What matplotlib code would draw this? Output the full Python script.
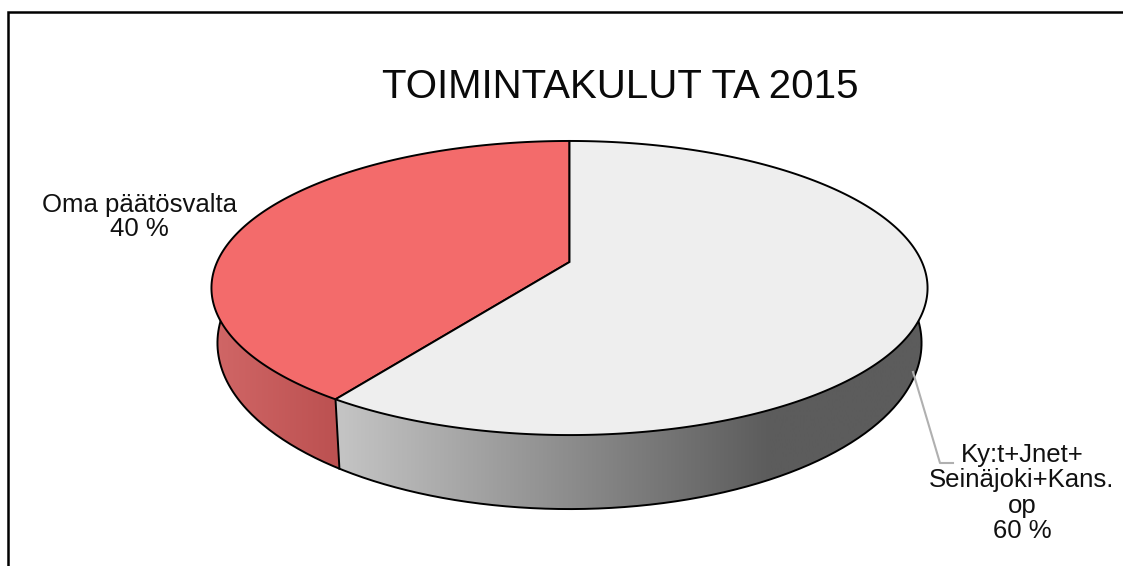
import numpy as np
import matplotlib
matplotlib.use("Agg")
import matplotlib.pyplot as plt
from matplotlib.colors import to_rgb
from matplotlib.patches import Polygon

plt.rcParams['font.family'] = ['Liberation Sans', 'DejaVu Sans']

title = "TOIMINTAKULUT TA 2015"
shares = [40.4, 59.6]
labels = ["Oma päätösvalta\n40 %", "Ky:t+Jnet+\nSeinäjoki+Kans.\nop\n60 %"]
top_colors = ["#f36b6b", "#eeeeee"]
wall_left = ["#d06666", "#c4c4c4"]
wall_right = ["#bb5050", "#5c5c5c"]

# pixel coordinates, y down
cx = 569.5
apex_y = 262.0
P = -0.1769
A = 96.1
C = 352.4


def top_rim(theta):
    # theta measured from the top of the pie, counter clockwise on screen
    u = -np.sin(theta)
    v = -np.cos(theta)
    w = 1 + P * v
    return cx + C * u / w, (apex_y + A * v) / w


def bottom_rim(theta):
    # lower ellipse, same angle mapped through the top rim position
    x, y = top_rim(theta)
    s = (x - cx) / 358.0
    c = (y - 288.0) / 147.0
    return cx + 352.0 * s, 343.0 + 166.0 * c


def wall(ax, xs, ys, left, right, x0, x1, g0, g1):
    # horizontal gradient between g0 and g1, flat outside, clipped to the wall outline
    c0 = np.array(to_rgb(left))
    c1 = np.array(to_rgb(right))
    px = np.linspace(x0, x1, 512)
    t = np.clip((px - g0) / (g1 - g0), 0, 1)[None, :, None]
    img = c0 + (c1 - c0) * t
    im = ax.imshow(img, extent=[x0, x1, 566, 0], aspect='auto', zorder=2, interpolation='bilinear')
    clip = Polygon(np.column_stack([xs, ys]), closed=True, transform=ax.transData, fc='none', ec='none')
    ax.add_patch(clip)
    im.set_clip_path(clip)


fig = plt.figure(figsize=(11.23, 5.66), dpi=100)
ax = fig.add_axes([0, 0, 1, 1])
ax.axis('off')

split = shares[0] / sum(shares) * 2 * np.pi
red_t = np.linspace(0, split, 300)
grey_t = np.linspace(split, 2 * np.pi, 400)
sx, sy = top_rim(split)
ex, ey = bottom_rim(split)

# walls
bx, by = bottom_rim(red_t)
wall(ax, np.r_[cx, bx, sx], np.r_[apex_y, by, sy], wall_left[0], wall_right[0], 200, 350, 216, 342)
bx, by = bottom_rim(grey_t)
wall(ax, np.r_[sx, bx, cx], np.r_[sy, by, apex_y], wall_left[1], wall_right[1], 320, 940, 340, 770)
bx, by = bottom_rim(np.linspace(0, 2 * np.pi, 600))
ax.plot(bx, by, color='black', lw=1.4, zorder=3)
ax.plot([sx, ex], [sy, ey], color='black', lw=1.4, zorder=3)

# top face
tx, ty = top_rim(red_t)
ax.add_patch(Polygon(np.column_stack([np.r_[cx, tx], np.r_[apex_y, ty]]), closed=True,
                     fc=top_colors[0], ec='black', lw=1.4, zorder=4))
tx, ty = top_rim(grey_t)
ax.add_patch(Polygon(np.column_stack([np.r_[cx, tx], np.r_[apex_y, ty]]), closed=True,
                     fc=top_colors[1], ec='black', lw=1.4, zorder=4))

# leader line
ax.plot([913, 940, 953], [372, 463, 463], color='#b0b0b0', lw=1.5, zorder=3)

ax.text(620, 87, title, fontsize=29, ha='center', va='center', color='#0a0a0a')
ax.text(139, 217, labels[0], fontsize=18.5, ha='center', va='center', linespacing=1.03, color='#111111')
ax.text(1022, 493, labels[1], fontsize=18.5, ha='center', va='center', linespacing=1.07, color='#111111')

# frame: only top and left edges are in the picture
ax.plot([7.5, 7.5, 1123], [566, 11.5, 11.5], color='black', lw=1.8, zorder=5, solid_joinstyle='miter')

ax.set_xlim(0, 1123)
ax.set_ylim(566, 0)
fig.savefig("out.png", dpi=100)
